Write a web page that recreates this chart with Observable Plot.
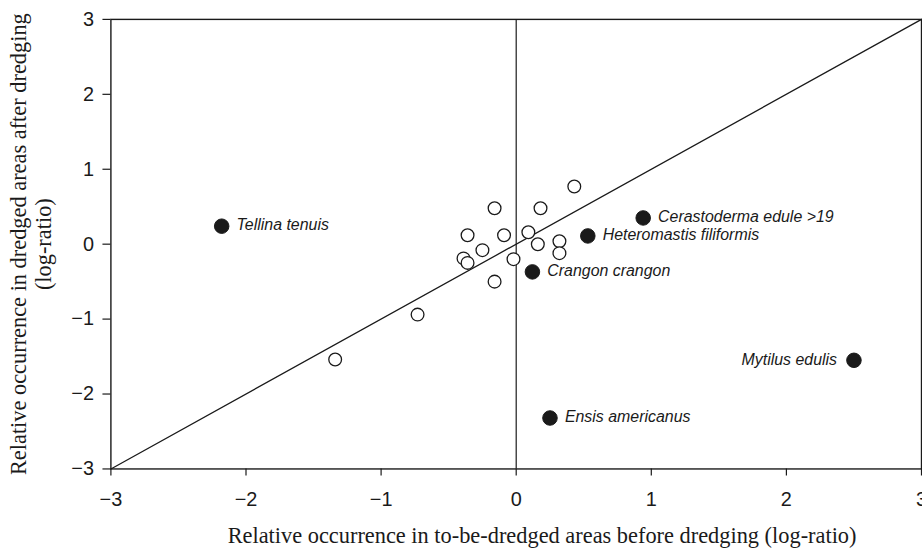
<!DOCTYPE html>
<html>
<head>
<meta charset="utf-8">
<script src="https://cdn.jsdelivr.net/npm/d3@7"></script>
<script src="https://cdn.jsdelivr.net/npm/@observablehq/plot@0.6"></script>
<style>
  html, body { margin: 0; padding: 0; overflow: hidden; background: #fff; }
</style>
</head>
<body>
<div id="chart"></div>
<script>
// Highlighted species (filled symbols)
const filledSpecies = ["Tellina tenuis", "Cerastoderma edule >19", "Heteromastis filiformis", "Crangon crangon", "Mytilus edulis", "Ensis americanus"];
const filledX = [-2.18, 0.94, 0.53, 0.12, 2.50, 0.25];
const filledY = [0.24, 0.35, 0.11, -0.37, -1.55, -2.32];

// Other species (open symbols)
const openX = [0.43, -0.16, 0.18, -0.36, -0.09, 0.09, 0.16, 0.32, 0.32, -0.25, -0.39, -0.36, -0.02, -0.16, -0.73, -1.34];
const openY = [0.77, 0.48, 0.48, 0.12, 0.12, 0.16, 0.00, 0.04, -0.12, -0.08, -0.19, -0.25, -0.20, -0.50, -0.94, -1.54];

const xTicks = [-3, -2, -1, 0, 1, 2, 3];
const yTicks = [-3, -2, -1, 0, 1, 2, 3];
const diagonal = [-3, 3];
const xTitle = "Relative occurrence in to-be-dredged areas before dredging (log-ratio)";
const yTitle = "Relative occurrence in dredged areas after dredging\n(log-ratio)";

const filled = filledSpecies.map((s, i) => ({species: s, x: filledX[i], y: filledY[i]}));
const open = openX.map((x, i) => ({x, y: openY[i]}));

const sans = "'Liberation Sans', Arial, sans-serif";
const serif = "'Liberation Serif', 'Times New Roman', serif";
const ink = "#1a1a1a";

const chart = Plot.plot({
  width: 927,
  height: 552,
  marginLeft: 111,
  marginRight: 1,
  marginTop: 19,
  marginBottom: 81,
  style: {fontFamily: sans, background: "white", color: ink},
  x: {domain: [-3, 3]},
  y: {domain: [-3, 3]},
  marks: [
    Plot.frame({stroke: ink, strokeWidth: 1.4}),
    Plot.ruleX([0], {stroke: ink, strokeWidth: 1.2}),
    Plot.line(diagonal, {x: d => d, y: d => d, stroke: ink, strokeWidth: 1.3}),
    Plot.axisX({ticks: xTicks, tickSize: 7, tickPadding: 16, fontSize: 20, label: null, tickFormat: d3.format("d"), stroke: ink, strokeWidth: 1.2}),
    Plot.axisY({ticks: yTicks, tickSize: 8, tickPadding: 9, fontSize: 20, label: null, tickFormat: d3.format("d"), stroke: ink, strokeWidth: 1.2}),
    Plot.dot(open, {x: "x", y: "y", r: 6.4, fill: "white", stroke: ink, strokeWidth: 1.3}),
    Plot.dot(filled, {x: "x", y: "y", r: 7.3, fill: ink, stroke: ink, strokeWidth: 1}),
    Plot.text(filled.filter(d => d.species !== "Mytilus edulis"), {x: "x", y: "y", text: "species", textAnchor: "start", dx: 15, dy: -1, fontSize: 16, fontStyle: "italic", fill: ink}),
    Plot.text(filled.filter(d => d.species === "Mytilus edulis"), {x: "x", y: "y", text: "species", textAnchor: "end", dx: -17, dy: 0, fontSize: 16, fontStyle: "italic", fill: ink}),
    Plot.text([xTitle], {frameAnchor: "bottom", textAnchor: "middle", lineAnchor: "middle", dx: 26, dy: 67, fontFamily: serif, fontSize: 22.5, fill: ink}),
    Plot.text([yTitle], {frameAnchor: "left", textAnchor: "middle", lineAnchor: "middle", dx: -80.5, dy: 0, rotate: -90, lineHeight: 1.11, fontFamily: serif, fontSize: 22.5, fill: ink})
  ]
});
document.getElementById("chart").appendChild(chart);
</script>
</body>
</html>
